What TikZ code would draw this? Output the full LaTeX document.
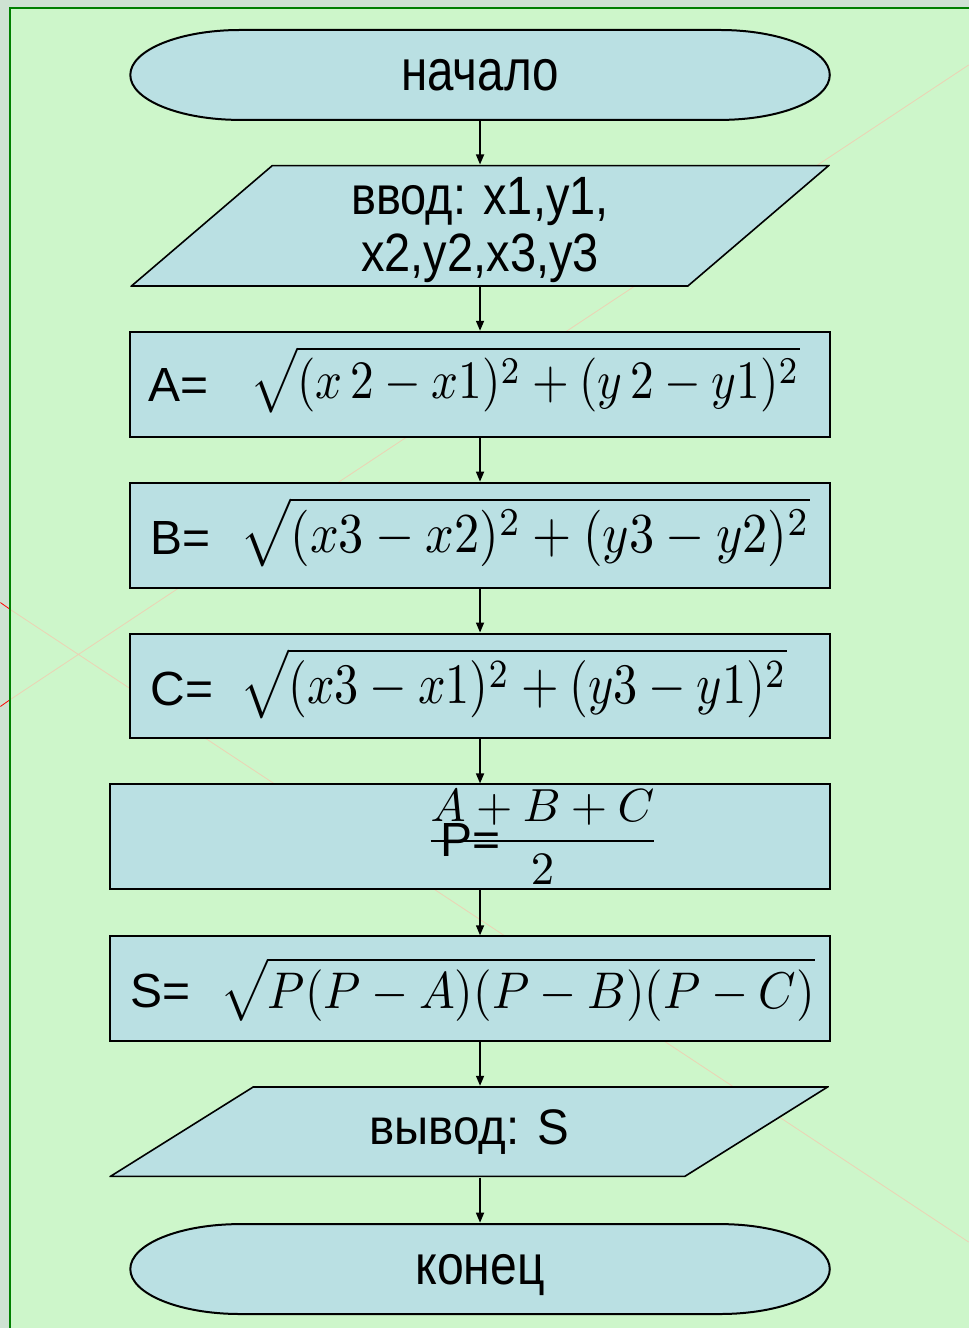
\documentclass[tikz,border=0pt]{standalone}
\usepackage[no-math]{fontspec}
\setmainfont{Liberation Sans}
\usepackage{graphicx}
\usepackage{xcolor}
\usetikzlibrary{arrows.meta}

\definecolor{boxblue}{RGB}{186,224,227}
\definecolor{slide}{RGB}{205,246,202}
\definecolor{outside}{RGB}{206,226,210}
\definecolor{framegreen}{RGB}{0,128,0}
\definecolor{guide}{RGB}{236,210,180}
\newcommand{\narrow}[2][0.82]{\scalebox{#1}[1]{#2}}
\newcommand{\fitf}[3]{\resizebox*{#1}{#2}{$\displaystyle #3$}}

\begin{document}
\begin{tikzpicture}[x=0.5pt,y=0.5pt,
  term/.style={minimum width=351pt, minimum height=46pt, inner sep=0pt, text depth=0pt,
    path picture={\draw[line width=1pt,fill=boxblue]
      ([xshift=55.5pt,yshift=-0.5pt]path picture bounding box.north west)
      -- ([xshift=-55.5pt,yshift=-0.5pt]path picture bounding box.north east)
      arc[start angle=90,end angle=-90,x radius=55pt,y radius=22.5pt]
      -- ([xshift=55.5pt,yshift=0.5pt]path picture bounding box.south west)
      arc[start angle=270,end angle=90,x radius=55pt,y radius=22.5pt] -- cycle;}},
  io/.style={inner sep=0pt, align=center,
    path picture={\draw[line width=0.8pt,fill=boxblue]
      ([xshift=#1,yshift=-0.4pt]path picture bounding box.north west)
      -- ([xshift=-0.6pt,yshift=-0.4pt]path picture bounding box.north east)
      -- ([xshift=-#1,yshift=0.4pt]path picture bounding box.south east)
      -- ([xshift=0.6pt,yshift=0.4pt]path picture bounding box.south west) -- cycle;}},
  blk/.style={draw, line width=1pt, fill=boxblue, minimum width=350pt,
    minimum height=52.5pt, inner sep=0pt},
  lbl/.style={anchor=base west, inner sep=0pt, font=\fontsize{24}{24}\selectfont},
  frm/.style={inner sep=0pt},
  arr/.style={line width=0.75pt, -{Triangle[length=5pt,width=4pt]}}]
% slide background
\fill[outside] (0,0) rectangle (969,-1329);
\fill[slide] (10,-8) rectangle (969,-1329);
\draw[guide, line width=0.4pt] (10,-700) -- (969,-65) (10,-610) -- (969,-1243);
\draw[red, line width=0.4pt] (0,-707) -- (10,-700) (0,-603) -- (10,-610);
\draw[framegreen, line width=1pt] (10,-1329) -- (10,-8) -- (969,-8);

% blocks
\node[term, font=\fontsize{29}{29}\selectfont] (start) at (480,-75) {\narrow{начало}};
\node[io=71pt, minimum width=350pt, minimum height=61pt,
  font=\fontsize{27}{28.5}\selectfont] (input) at (480,-226)
  {\rule{0pt}{23pt}\narrow[0.87]{ввод: x1,y1,}\\\narrow[0.87]{x2,y2,x3,y3}};
\node[blk] (boxA) at (480,-384.5) {};
\node[blk] (boxB) at (480,-535.5) {};
\node[blk] (boxC) at (480,-686.5) {};
\node[blk, minimum width=360pt] (boxP) at (470,-837.5) {};
\node[blk, minimum width=360pt] (boxS) at (470,-989.5) {};
\node[io=72pt, minimum width=360pt, minimum height=45.5pt,
  font=\fontsize{25}{25}\selectfont] (output) at (469,-1132.5)
  {\narrow[0.95]{вывод: S}};
\node[term, font=\fontsize{28}{28}\selectfont] (stop) at (480,-1270) {\narrow[0.86]{конец}};

% formulas
\node[lbl] (labA) at (148,-402) {A=};
\node[frm] (fA) at (525,-379.5) {\fitf{275pt}{33.5pt}{\sqrt{(x\,2-x1)^2+(y\,2-y1)^2}}};
\node[lbl] (labB) at (150,-555) {B=};
\node[frm] (fB) at (525,-532) {\fitf{285pt}{35pt}{\sqrt{(x3-x2)^2+(y3-y2)^2}}};
\node[lbl] (labC) at (150,-706) {C=};
\node[frm] (fC) at (513.5,-683.5) {\fitf{273.5pt}{35.5pt}{\sqrt{(x3-x1)^2+(y3-y1)^2}}};
\node[frm] (fP) at (542.5,-837.5) {\fitf{117.5pt}{47.5pt}{\frac{A+B+C}{2}}};
\node[lbl] (labP) at (440,-857) {P=};
\node[lbl] (labS) at (130,-1008) {S=};
\node[frm] (fS) at (517.5,-990) {\fitf{297.5pt}{32pt}{\sqrt{P(P-A)(P-B)(P-C)}}};

% connectors
\coordinate (axis) at (480,0);
\draw[arr] (start) -- (input);
\draw[arr] (input) -- (boxA);
\draw[arr] (boxA) -- (boxB);
\draw[arr] (boxB) -- (boxC);
\draw[arr] (boxC) -- (axis |- boxP.north);
\draw[arr] (axis |- boxP.south) -- (axis |- boxS.north);
\draw[arr] (axis |- boxS.south) -- (axis |- output.north);
\draw[arr] (axis |- output.south) -- (stop);
\end{tikzpicture}
\end{document}
